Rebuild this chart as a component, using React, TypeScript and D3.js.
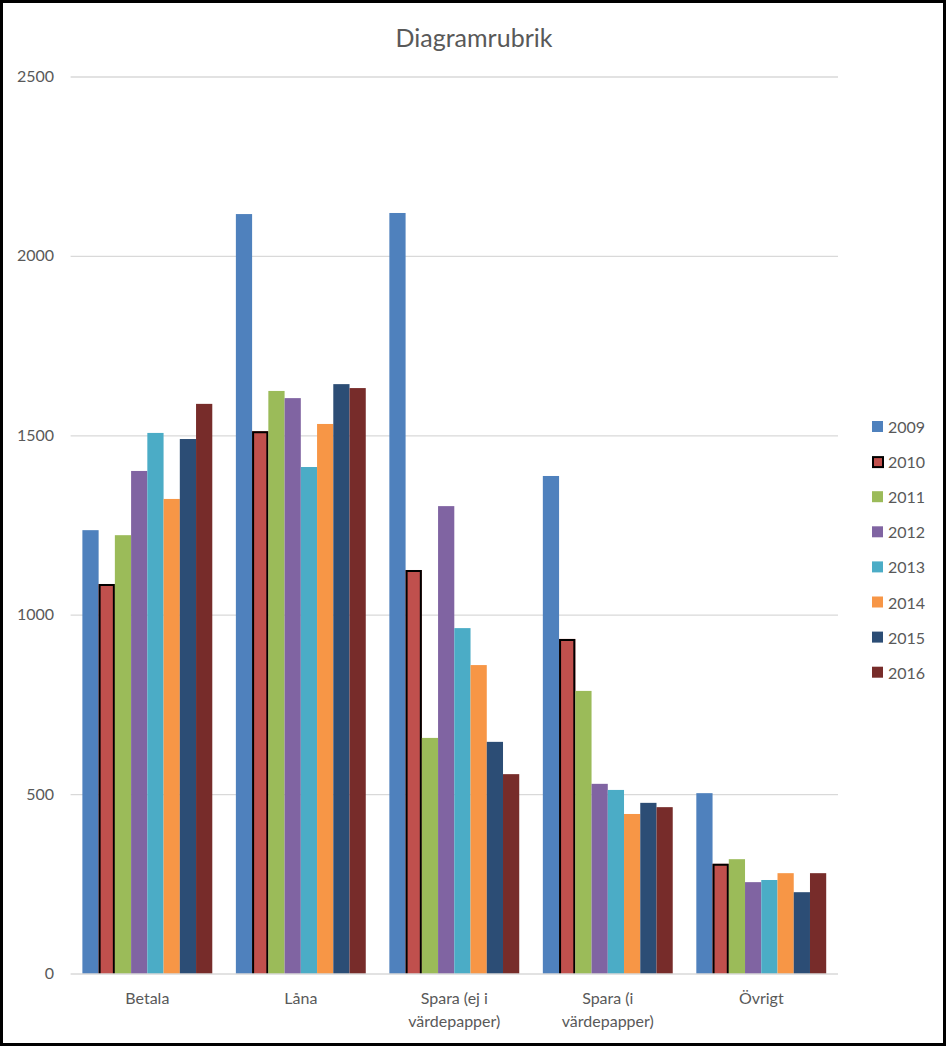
import React from "react";
import * as d3 from "d3";

const categories = ["Betala", "Låna", "Spara (ej i värdepapper)", "Spara (i värdepapper)", "Övrigt"];
const categoryLines = [["Betala"], ["Låna"], ["Spara (ej i", "värdepapper)"], ["Spara (i", "värdepapper)"], ["Övrigt"]];
const years = ["2009", "2010", "2011", "2012", "2013", "2014", "2015", "2016"];
const colors = ["#4F81BD", "#C0504D", "#9BBB59", "#8064A2", "#4BACC6", "#F79646", "#2C4D75", "#772C2A"];
const s2009 = [1237, 2118, 2121, 1388, 504];
const s2010 = [1087, 1513, 1126, 934, 307];
const s2011 = [1223, 1625, 658, 789, 320];
const s2012 = [1402, 1605, 1304, 530, 256];
const s2013 = [1508, 1413, 964, 513, 262];
const s2014 = [1324, 1533, 861, 446, 281];
const s2015 = [1491, 1644, 647, 477, 228];
const s2016 = [1589, 1633, 557, 465, 281];
const series = [s2009, s2010, s2011, s2012, s2013, s2014, s2015, s2016];
const yTicks = [0, 500, 1000, 1500, 2000, 2500];

const W = 947, H = 1047;
const FONT = "Lato, 'Open Sans', sans-serif";
const TXT = "#595959";

export default function App() {
  const left = 70.6, right = 838, top = 77, bottom = 974;
  const x0 = d3.scaleBand<string>().domain(categories).range([left, right]).paddingInner(0.1537).paddingOuter(0.0768);
  const x1 = d3.scaleBand<string>().domain(years).range([0, x0.bandwidth()]);
  const y = d3.scaleLinear().domain([0, 2500]).range([bottom, top]);

  return (
    <svg width={W} height={H} style={{ position: "absolute", left: 0, top: 0, background: "#fff" }}>
      <rect x={0} y={0} width={W} height={H} fill="#fff" />
      <text x={474} y={47} textAnchor="middle" fontFamily={FONT} fontSize={25} fill={TXT}>Diagramrubrik</text>
      {yTicks.filter((t) => t > 0).map((t) => (
        <line key={t} x1={left} x2={right} y1={y(t)} y2={y(t)} stroke="#D9D9D9" strokeWidth={1.3} />
      ))}
      {yTicks.map((t) => (
        <text key={t} x={54} y={y(t) + 5} textAnchor="end" fontFamily={FONT} fontSize={16} fill={TXT}>{t}</text>
      ))}
      {series.map((vals, si) =>
        vals.map((v, ci) => {
          const bx = (x0(categories[ci]) as number) + (x1(years[si]) as number);
          const bw = x1.bandwidth();
          if (si === 1) {
            return (
              <g key={`${si}-${ci}`}>
                <rect x={bx} y={y(v)} width={bw} height={y(0) - y(v)} fill={colors[si]} />
                <path
                  d={`M${bx + 1},${y(0)} V${y(v) + 1} H${bx + bw - 1} V${y(0)}`}
                  fill="none"
                  stroke="#000"
                  strokeWidth={2}
                />
              </g>
            );
          }
          return (
            <rect key={`${si}-${ci}`} x={bx} y={y(v)} width={bw} height={y(0) - y(v)} fill={colors[si]} />
          );
        })
      )}
      <line x1={left} x2={right} y1={y(0)} y2={y(0)} stroke="#D9D9D9" strokeWidth={1.5} />
      {categoryLines.map((lines, ci) => {
        const cx = (x0(categories[ci]) as number) + x0.bandwidth() / 2;
        return (
          <text key={ci} x={cx} textAnchor="middle" fontFamily={FONT} fontSize={16} fill={TXT}>
            {lines.map((l, li) => (
              <tspan key={li} x={cx} y={1004 + li * 23}>{l}</tspan>
            ))}
          </text>
        );
      })}
      {years.map((yr, i) => {
        const ly = 427 + i * 35.1;
        return (
          <g key={yr}>
            <rect
              x={i === 1 ? 873 : 872}
              y={i === 1 ? ly - 5 : ly - 6}
              width={i === 1 ? 10 : 11}
              height={i === 1 ? 10 : 11}
              fill={colors[i]}
              stroke={i === 1 ? "#000" : "none"}
              strokeWidth={i === 1 ? 2 : 0}
            />
            <text x={888} y={ly + 6} fontFamily={FONT} fontSize={16} fill={TXT}>{yr}</text>
          </g>
        );
      })}
      <rect x={1.5} y={1.5} width={W - 4} height={H - 4} fill="none" stroke="#000" strokeWidth={3} />
    </svg>
  );
}
